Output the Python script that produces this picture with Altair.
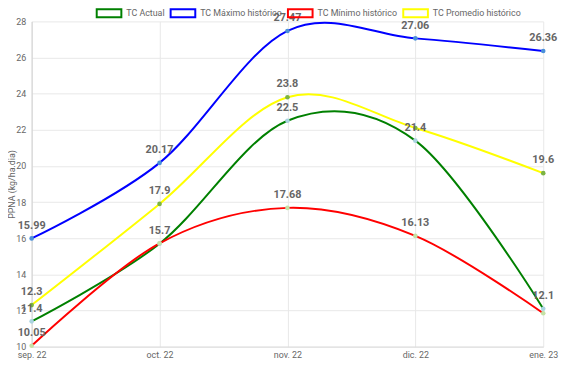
import altair as alt
import pandas as pd

months = ["sep. 22", "oct. 22", "nov. 22", "dic. 22", "ene. 23"]
series = ["TC Actual", "TC Máximo histórico", "TC Mínimo histórico", "TC Promedio histórico"]

actual = [11.4, 15.7, 22.5, 21.4, 12.1]
maximo = [15.99, 20.17, 27.47, 27.06, 26.36]
minimo = [10.05, 15.72, 17.68, 16.13, 11.85]
promedio = [12.3, 17.9, 23.8, 22.1, 19.6]

labels_actual = ["11.4", "15.7", "22.5", "21.4", "12.1"]
labels_maximo = ["15.99", "20.17", "27.47", "27.06", "26.36"]
labels_minimo = ["10.05", "", "17.68", "16.13", ""]
labels_promedio = ["12.3", "17.9", "23.8", "", "19.6"]

line_colors = ["#008000", "#0000ff", "#ff0000", "#ffff00"]
point_colors = ["#a9d3e0", "#4a90d9", "#c5e1a5", "#7cb342"]

values = [actual, maximo, minimo, promedio]
labels = [labels_actual, labels_maximo, labels_minimo, labels_promedio]

rows = []
for si, s in enumerate(series):
    for mi, m in enumerate(months):
        rows.append({"mes": m, "serie": s, "valor": values[si][mi],
                     "etiqueta": labels[si][mi], "pcolor": point_colors[si],
                     "orden": si})
df = pd.DataFrame(rows)

FONT = "Roboto"
GRAY = "#666666"

x = alt.X("mes:N", sort=months, scale=alt.Scale(type="point", padding=0),
          axis=alt.Axis(title=None, labelAngle=0, grid=True, ticks=False,
                        labelPadding=4, labelFontSize=9, labelColor=GRAY,
                        labelFont=FONT, gridColor="#e8e8e8", domainColor="#dcdcdc"))
y = alt.Y("valor:Q", scale=alt.Scale(domain=[10, 28], nice=False, zero=False),
          axis=alt.Axis(title="PPNA (kg/ha.dia)", values=list(range(10, 29, 2)),
                        ticks=False, labelPadding=6, labelFontSize=9,
                        labelColor=GRAY, labelFont=FONT, titleFont=FONT,
                        titleFontSize=9, titleFontWeight="normal",
                        titleColor=GRAY, titleX=-15, titleY=165,
                        gridColor="#e8e8e8", domainColor="#d0d0d0"))

base = alt.Chart(df)

lines = base.mark_line(interpolate="cardinal", strokeWidth=2).encode(
    x=x, y=y,
    color=alt.Color("serie:N", scale=alt.Scale(domain=series, range=line_colors),
                    legend=alt.Legend(title=None, orient="none", direction="horizontal",
                                      legendX=65, legendY=-22,
                                      symbolType="M-1,-0.32H1V0.32H-1Z",
                                      symbolSize=625, symbolStrokeWidth=2,
                                      labelFontSize=9, labelColor=GRAY, labelFont=FONT,
                                      labelOffset=4, columnPadding=2)),
    order=alt.Order("orden:Q", sort="descending"),
)

points = base.mark_circle(size=22, opacity=1).encode(
    x=x, y=y, color=alt.Color("pcolor:N", scale=None)
)

texts = base.transform_filter("datum.etiqueta != ''").mark_text(
    dy=-13, fontSize=11, fontWeight="bold", color=GRAY, font=FONT
).encode(x=x, y=y, text="etiqueta:N")

chart = alt.layer(lines, points, texts).properties(
    width=519, height=330,
    autosize=alt.AutoSizeParams(type="none"),
    padding={"left": 24, "top": 11, "right": 16, "bottom": 14},
).configure_view(stroke=None)

chart.save("out.html", embed_options={"renderer": "svg", "actions": False})
